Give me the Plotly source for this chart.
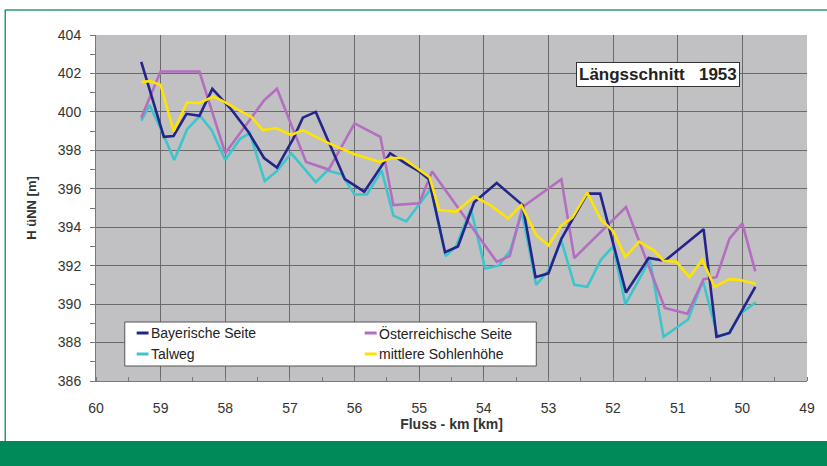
import plotly.graph_objects as go

# Flusskilometer / Höhen (m ü. NN) der vier Profillinien, Längsschnitt 1953
km_bay = [59.3, 58.95, 58.8, 58.6, 58.4, 58.2, 57.9, 57.65, 57.4, 57.2, 56.95, 56.8, 56.6, 56.35,
          56.15, 55.85, 55.45, 55.2, 55.0, 54.85, 54.6, 54.4, 54.15, 53.8, 53.4, 53.2, 53.0, 52.8,
          52.4, 52.2, 51.8, 51.45, 51.2, 50.6, 50.4, 50.2, 49.8]
h_bay = [402.6, 398.7, 398.75, 399.9, 399.8, 401.2, 400.1, 399.0, 397.6, 397.1, 398.6, 399.7, 400.0,
         398.0, 396.5, 395.85, 397.85, 397.3, 396.9, 396.5, 392.7, 393.0, 395.3, 396.3, 395.15, 391.4,
         391.6, 393.4, 395.75, 395.75, 390.6, 392.4, 392.25, 393.9, 388.3, 388.5, 390.9]

km_ost = [59.3, 59.0, 58.4, 58.0, 57.4, 57.2, 56.75, 56.4, 56.0, 55.6, 55.4, 55.0, 54.8, 53.8, 53.6,
          53.4, 52.8, 52.6, 51.8, 51.2, 50.85, 50.6, 50.4, 50.2, 50.0, 49.8]
h_ost = [399.7, 402.1, 402.1, 397.85, 400.6, 401.2, 397.4, 397.0, 399.4, 398.7, 395.15, 395.25, 396.9,
         392.2, 392.5, 395.05, 396.5, 392.4, 395.05, 389.8, 389.5, 391.3, 391.4, 393.4, 394.2, 391.7]

km_tal = [59.3, 59.17, 58.97, 58.79, 58.59, 58.39, 58.21, 58.0, 57.77, 57.62, 57.39, 57.21, 56.98, 56.6,
          56.42, 56.2, 56.0, 55.81, 55.58, 55.4, 55.2, 54.82, 54.59, 54.43, 54.2, 53.98, 53.77, 53.59,
          53.41, 53.19, 53.0, 52.8, 52.6, 52.4, 52.19, 52.0, 51.81, 51.43, 51.22, 50.84, 50.61, 50.38,
          50.2, 50.03, 49.79]
h_tal = [399.55, 400.35, 398.9, 397.5, 399.1, 399.8, 399.05, 397.5, 398.6, 398.9, 396.4, 396.9, 397.85,
         396.35, 396.95, 396.75, 395.7, 395.7, 396.95, 394.6, 394.3, 396.0, 392.5, 393.0, 394.95, 391.85,
         392.0, 392.8, 394.8, 391.0, 391.75, 393.3, 391.0, 390.9, 392.3, 393.0, 390.0, 392.3, 388.3,
         389.2, 391.2, 388.3, 388.5, 389.5, 390.1]

km_mit = [59.3, 59.17, 59.0, 58.8, 58.59, 58.41, 58.18, 58.0, 57.8, 57.6, 57.42, 57.21, 56.98, 56.8,
          56.42, 56.0, 55.61, 55.43, 55.25, 54.84, 54.69, 54.43, 54.15, 53.9, 53.62, 53.42, 53.19, 53.0,
          52.8, 52.63, 52.4, 52.19, 52.0, 51.81, 51.6, 51.37, 51.22, 51.02, 50.82, 50.62, 50.43, 50.2,
          50.03, 49.79]
h_mit = [401.55, 401.6, 401.4, 399.0, 400.5, 400.45, 400.8, 400.5, 400.1, 399.75, 399.05, 399.15, 398.8,
         399.05, 398.4, 397.8, 397.4, 397.6, 397.6, 396.6, 394.9, 394.8, 395.6, 395.15, 394.45, 395.15,
         393.6, 393.05, 394.1, 394.5, 395.8, 394.4, 393.8, 392.45, 393.25, 392.8, 392.25, 392.2, 391.4,
         392.3, 390.9, 391.3, 391.25, 391.05]

x_ticks = list(range(60, 48, -1))
y_ticks = list(range(386, 405, 2))

names = ["Bayerische Seite", "Österreichische Seite", "Talweg", "mittlere Sohlenhöhe"]
colors = {"Bayerische Seite": "#24248a", "Österreichische Seite": "#b46ec0",
          "Talweg": "#3cc6cc", "mittlere Sohlenhöhe": "#ffe400"}
series = {"Bayerische Seite": (km_bay, h_bay), "Österreichische Seite": (km_ost, h_ost),
          "Talweg": (km_tal, h_tal), "mittlere Sohlenhöhe": (km_mit, h_mit)}

FONT = "Liberation Sans, Arial, sans-serif"

fig = go.Figure()
for name in ["Talweg", "Österreichische Seite", "Bayerische Seite", "mittlere Sohlenhöhe"]:
    xs, ys = series[name]
    fig.add_trace(go.Scatter(x=xs, y=ys, mode="lines", name=name, showlegend=False,
                             line=dict(color=colors[name], width=2.6)))

# plot area geometry in pixels (for placing frame & legend in paper units)
L, R, T, B, W, H = 96, 14, 35, 85, 827, 466
pw, ph = W - L - R, H - T - B


def px(xp):
    return (xp - L) / pw


def py(yp):
    return (H - B - yp) / ph


shapes = []
annotations = []

# green page frame and footer bar
green = "#008a5a"
shapes.append(dict(type="rect", xref="paper", yref="paper", x0=px(-5), x1=px(840), y0=py(441),
                   y1=py(475), fillcolor=green, line=dict(width=0), layer="below"))
shapes.append(dict(type="line", xref="paper", yref="paper", x0=px(4), x1=px(840), y0=py(10), y1=py(10),
                   line=dict(color="#2a9a6e", width=1.5)))
shapes.append(dict(type="line", xref="paper", yref="paper", x0=px(4.5), x1=px(4.5), y0=py(10), y1=py(441),
                   line=dict(color="#2a9a6e", width=1.5)))

# legend box
shapes.append(dict(type="rect", xref="paper", yref="paper", x0=px(125), x1=px(540), y0=py(366), y1=py(322),
                   fillcolor="white", line=dict(color="#555555", width=1)))
legend_pos = {"Bayerische Seite": (137, 333), "Österreichische Seite": (367, 333),
              "Talweg": (137, 354), "mittlere Sohlenhöhe": (367, 354)}
for name in names:
    lx, ly = legend_pos[name]
    shapes.append(dict(type="line", xref="paper", yref="paper", x0=px(lx), x1=px(lx + 12),
                       y0=py(ly), y1=py(ly), line=dict(color=colors[name], width=3)))
    annotations.append(dict(xref="paper", yref="paper", x=px(lx + 12), y=py(ly), text=name,
                            showarrow=False, xanchor="left", yanchor="middle",
                            font=dict(family=FONT, size=14, color="#222222")))

# title box
annotations.append(dict(xref="paper", yref="paper", x=px(663), y=py(74),
                        text="<b>Längsschnitt   1953</b>", showarrow=False,
                        xanchor="center", yanchor="middle", bgcolor="white",
                        bordercolor="#333333", borderwidth=1, borderpad=2,
                        font=dict(family=FONT, size=17, color="#222222")))

fig.update_layout(
    width=W, height=H,
    margin=dict(l=L, r=R, t=T, b=B),
    paper_bgcolor="white",
    plot_bgcolor="#c1c1c3",
    showlegend=False,
    shapes=shapes,
    annotations=annotations,
    xaxis=dict(
        range=[60, 49], tickmode="array", tickvals=x_ticks, ticktext=[str(v) for v in x_ticks],
        showgrid=True, gridcolor="#6a6a6a", gridwidth=1,
        showline=True, linecolor="#7a7a7a", linewidth=1,
        ticks="", ticklabelstandoff=14,
        minor=dict(dtick=0.5, ticks="inside", ticklen=4, tickcolor="#777777", showgrid=False),
        tickfont=dict(family=FONT, size=14, color="#333333"),
        title=dict(text="<b>Fluss - km [km]</b>", standoff=2,
                   font=dict(family=FONT, size=14, color="#333333")),
        zeroline=False,
    ),
    yaxis=dict(
        range=[386, 404], tickmode="array", tickvals=y_ticks, ticktext=[str(v) for v in y_ticks],
        showgrid=True, gridcolor="#6a6a6a", gridwidth=1,
        showline=True, linecolor="#7a7a7a", linewidth=1,
        ticks="outside", ticklen=5, tickcolor="#777777", ticklabelstandoff=6,
        minor=dict(dtick=1, ticks="outside", ticklen=5, tickcolor="#777777", showgrid=False),
        tickfont=dict(family=FONT, size=14, color="#333333"),
        title=dict(text="<b>H üNN [m]</b>", standoff=18,
                   font=dict(family=FONT, size=13, color="#333333")),
        zeroline=False,
    ),
)

fig.write_html("out.html")
